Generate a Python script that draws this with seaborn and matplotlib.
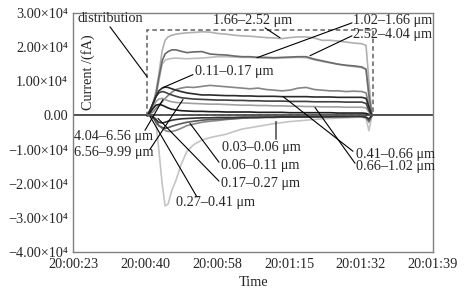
import numpy as np
import pandas as pd
import matplotlib
matplotlib.use("Agg")
import matplotlib.pyplot as plt
import seaborn as sns
from matplotlib.patches import Rectangle

# ---------------- data ----------------
# seconds after 20:00:23
time_s = [17.7, 18.4, 19.1, 19.8, 20.5, 21.3, 22.0, 22.7, 23.6, 24.6, 25.8, 27.2,
          28.9, 30.8, 32.7, 34.6, 36.6, 38.5, 40.4, 42.3, 44.2, 46.1, 48.0, 49.9,
          51.8, 53.8, 55.7, 57.6, 59.5, 61.4, 63.3, 65.2, 67.1, 69.0, 70.0, 70.7, 71.4]

# currents in units of 1e4 fA
bin_166_252 = [0.0, 0.1, 0.35, 0.7, 1.2, 1.9, 2.2, 2.3, 2.35, 2.38, 2.4, 2.42, 2.43, 2.45, 2.44, 2.4,
               2.38, 2.35, 2.33, 2.32, 2.3, 2.28, 2.27, 2.25, 2.28, 2.3, 2.3, 2.27, 2.2, 2.2, 2.18,
               2.15, 2.12, 2.1, 2.05, 1.0, 0.0]
bin_102_166 = [0, 0.1, 0.3, 0.6, 1.1, 1.6, 1.8, 1.87, 1.92, 1.92, 1.88, 1.84, 1.86, 1.87, 1.8, 1.78,
               1.77, 1.74, 1.72, 1.72, 1.7, 1.7, 1.69, 1.7, 1.71, 1.72, 1.72, 1.65, 1.6, 1.55, 1.5,
               1.47, 1.45, 1.42, 1.35, 0.6, 0]
bin_252_404 = [0, 0.1, 0.3, 0.55, 1.0, 1.5, 1.62, 1.65, 1.67, 1.68, 1.67, 1.66, 1.67, 1.68, 1.7, 1.72,
               1.72, 1.71, 1.7, 1.7, 1.69, 1.68, 1.67, 1.68, 1.69, 1.7, 1.69, 1.63, 1.58, 1.54, 1.5,
               1.46, 1.43, 1.4, 1.35, 0.5, 0]
bin_404_656 = [0, 0.05, 0.1, 0.2, 0.3, 0.4, 0.5, 0.58, 0.68, 0.76, 0.8, 0.83, 0.82, 0.85, 0.88, 0.86,
               0.84, 0.82, 0.8, 0.78, 0.8, 0.76, 0.74, 0.72, 0.74, 0.8, 0.82, 0.76, 0.74, 0.72, 0.72,
               0.7, 0.71, 0.7, 0.66, 0.3, 0]
bin_011_017 = [0, 0.15, 0.35, 0.55, 0.72, 0.8, 0.83, 0.82, 0.78, 0.74, 0.7, 0.66, 0.63, 0.6, 0.6, 0.59,
               0.58, 0.58, 0.57, 0.57, 0.56, 0.56, 0.56, 0.55, 0.55, 0.55, 0.55, 0.54, 0.54, 0.54, 0.53,
               0.53, 0.53, 0.53, 0.5, 0.25, 0]
bin_041_066 = [0, 0.15, 0.35, 0.55, 0.66, 0.7, 0.68, 0.64, 0.6, 0.56, 0.52, 0.5, 0.48, 0.47, 0.46, 0.45,
               0.45, 0.44, 0.44, 0.43, 0.43, 0.42, 0.42, 0.42, 0.41, 0.41, 0.41, 0.4, 0.4, 0.4, 0.4,
               0.39, 0.39, 0.39, 0.35, 0.15, 0]
bin_066_102 = [0, 0.1, 0.25, 0.4, 0.48, 0.5, 0.47, 0.43, 0.4, 0.38, 0.37, 0.36, 0.35, 0.34, 0.33, 0.33,
               0.32, 0.31, 0.3, 0.3, 0.29, 0.29, 0.28, 0.28, 0.27, 0.27, 0.26, 0.26, 0.25, 0.25, 0.25,
               0.24, 0.24, 0.24, 0.22, 0.1, 0]
bin_656_999 = [0, 0.08, 0.2, 0.3, 0.32, 0.3, 0.26, 0.22, 0.18, 0.16, 0.14, 0.13, 0.12, 0.12, 0.11, 0.11,
               0.1, 0.1, 0.1, 0.1, 0.09, 0.09, 0.09, 0.09, 0.08, 0.08, 0.08, 0.08, 0.08, 0.08, 0.07,
               0.07, 0.07, 0.07, 0.06, 0.03, 0]
bin_017_027 = [0, 0, -0.05, -0.12, -0.2, -0.22, -0.2, -0.17, -0.14, -0.12, -0.1, -0.09, -0.08, -0.07,
               -0.07, -0.06, -0.06, -0.06, -0.05, -0.05, -0.05, -0.05, -0.05, -0.04, -0.04, -0.04,
               -0.04, -0.04, -0.04, -0.04, -0.03, -0.03, -0.03, -0.03, -0.05, -0.1, 0]
bin_003_006 = [0, 0, -0.03, -0.1, -0.3, -0.38, -0.44, -0.47, -0.47, -0.44, -0.38, -0.3, -0.25, -0.2,
               -0.17, -0.15, -0.12, -0.1, -0.08, -0.07, -0.06, -0.05, -0.05, -0.04, -0.04, -0.04,
               -0.03, -0.03, -0.03, -0.03, -0.03, -0.02, -0.02, -0.02, -0.05, -0.2, 0]
bin_006_011 = [0, 0, -0.05, -0.2, -0.3, -0.35, -0.38, -0.36, -0.32, -0.28, -0.24, -0.2, -0.17, -0.14,
               -0.12, -0.11, -0.1, -0.09, -0.08, -0.07, -0.07, -0.06, -0.06, -0.05, -0.05, -0.05,
               -0.05, -0.04, -0.04, -0.04, -0.04, -0.04, -0.03, -0.03, -0.06, -0.15, 0]
bin_027_041 = [0, 0, -0.05, -0.2, -1.0, -2.0, -2.65, -2.6, -2.2, -1.9, -1.45, -1.05, -0.85, -0.72,
               -0.65, -0.6, -0.55, -0.47, -0.4, -0.36, -0.32, -0.28, -0.24, -0.21, -0.18, -0.16,
               -0.14, -0.12, -0.1, -0.09, -0.08, -0.07, -0.06, -0.05, -0.1, -0.45, 0]

bins = ["0.27–0.41 μm", "1.66–2.52 μm", "2.52–4.04 μm", "1.02–1.66 μm", "4.04–6.56 μm",
        "0.66–1.02 μm", "0.03–0.06 μm", "0.06–0.11 μm", "0.41–0.66 μm", "0.11–0.17 μm",
        "6.56–9.99 μm", "0.17–0.27 μm"]
series = [bin_027_041, bin_166_252, bin_252_404, bin_102_166, bin_404_656,
          bin_066_102, bin_003_006, bin_006_011, bin_041_066, bin_011_017,
          bin_656_999, bin_017_027]
colors = ["#c4c4c4", "#b0b0b0", "#bcbcbc", "#6a6a6a", "#858585",
          "#a0a0a0", "#8a8a8a", "#5a5a5a", "#404040", "#2a2a2a",
          "#1e1e1e", "#333333"]

tick_pos = [0, 17.2, 34.4, 51.6, 68.8, 86.0]
tick_labels = ["20:00:23", "20:00:40", "20:00:58", "20:01:15", "20:01:32", "20:01:39"]
ytick_vals = [3e4, 2e4, 1e4, 0, -1e4, -2e4, -3e4, -4e4]
ytick_labels = ["3.00×10⁴", "2.00×10⁴", "1.00×10⁴", "0.00", "−1.00×10⁴",
                "−2.00×10⁴", "−3.00×10⁴", "−4.00×10⁴"]

rows = []
for b, vals in zip(bins, series):
    for t, v in zip(time_s, vals):
        rows.append((b, t, v * 1e4))
df = pd.DataFrame(rows, columns=["bin", "t", "current"])

# ---------------- plot ----------------
sns.set_style("white")
plt.rcParams["font.family"] = ["Liberation Serif", "DejaVu Serif"]
plt.rcParams["mathtext.fontset"] = "stix"
FS = 10.3

fig = plt.figure(figsize=(4.65, 2.98), dpi=100)
ax = fig.add_axes([73 / 465, 1 - 252 / 298, 360 / 465, 239 / 298])
ax.set_xlim(0, 86)
ax.set_ylim(-4e4, 3e4)

ax.axhline(0, color="#505050", lw=1.4, zorder=1)

sns.lineplot(data=df, x="t", y="current", hue="bin", hue_order=bins,
             palette=dict(zip(bins, colors)), legend=False, linewidth=1.2,
             estimator=None, ax=ax, zorder=2)

def P(px, py):
    return ((px - 73) / 360 * 86, (116 - py) / 34.3 * 1e4)

# dashed selection box
x0, y0 = P(146.5, 116)
x1, y1 = P(372.5, 30)
ax.add_patch(Rectangle((x0, y0), x1 - x0, y1 - y0, fill=False, ls=(0, (3, 2)),
                       lw=1.1, ec="#606060", zorder=3))

# labels with leader lines: (text, text_px, text_py, line_start, line_end)
notes = [
    ("distribution", 77, 19, (110, 27), (147, 77)),
    ("1.66–2.52 μm", 213, 21, (265, 28), (280, 38)),
    ("1.02–1.66 μm", 353, 21, (352, 23), (257, 58)),
    ("2.52–4.04 μm", 353, 35, (352, 36), (310, 56)),
    ("0.11–0.17 μm", 195, 72, (193, 75), (163, 88)),
    ("4.04–6.56 μm", 74, 137, (145, 131), (163, 100)),
    ("6.56–9.99 μm", 74, 153, (150, 150), (183, 100)),
    ("0.03–0.06 μm", 222, 148, (276, 140), (276, 122)),
    ("0.06–0.11 μm", 221, 166, (219, 163), (190, 124)),
    ("0.17–0.27 μm", 221, 184, (219, 182), (158, 119)),
    ("0.27–0.41 μm", 176, 203, (197, 198), (150, 117)),
    ("0.41–0.66 μm", 356, 155, (353, 152), (283, 97)),
    ("0.66–1.02 μm", 356, 167, (355, 164), (315, 108)),
]
for txt, tx, ty, s, e in notes:
    ax.text(*P(tx, ty), txt, fontsize=FS, ha="left", va="center", zorder=5)
    ax.annotate("", xy=P(*e), xytext=P(*s),
                arrowprops=dict(arrowstyle="-", lw=0.8, color="black",
                                shrinkA=0, shrinkB=0), zorder=4)

# y label inside axes
ax.text(*P(88, 73), "Current /(fA)", rotation=90, fontsize=FS, ha="center", va="center")

ax.set_xticks(tick_pos)
ax.set_xticklabels(tick_labels, fontsize=FS)
ax.set_yticks(ytick_vals)
ax.set_yticklabels(ytick_labels, fontsize=FS)
ax.tick_params(axis="x", direction="in", length=3, width=0.8, color="#707070", pad=4)
ax.tick_params(axis="y", direction="out", length=3, width=0.8, color="#707070", pad=0.5)
ax.set_xlabel("Time", fontsize=FS, labelpad=4)
ax.set_ylabel("")
for sp in ax.spines.values():
    sp.set_visible(True)
    sp.set_color("#808080")
    sp.set_linewidth(1.0)

fig.savefig("out.png", dpi=100)
